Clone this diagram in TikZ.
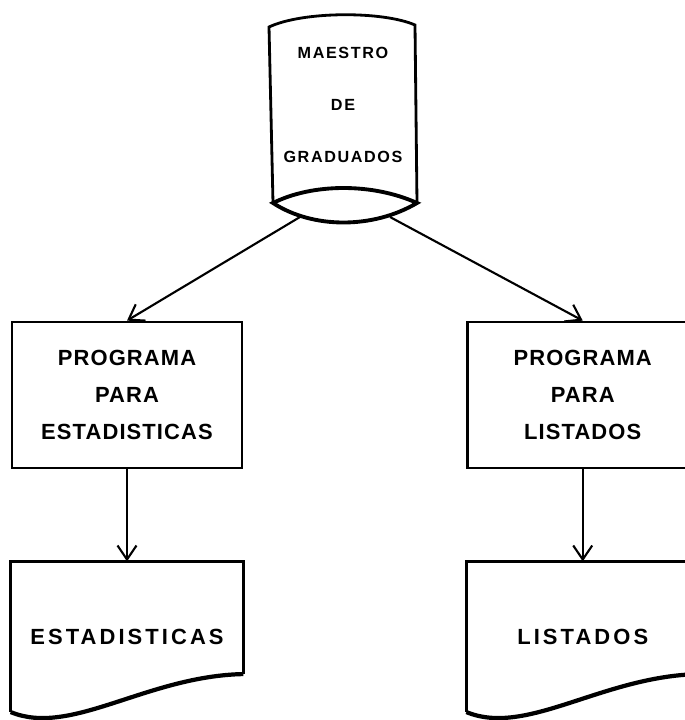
\documentclass[tikz,border=0pt]{standalone}
\usepackage{fontspec}
\newfontfamily\rotulo[LetterSpace=5]{Liberation Sans}
\newfontfamily\rotuloancho[LetterSpace=14]{Liberation Sans}
\newfontfamily\rotulocinta[LetterSpace=10]{Liberation Sans}
\usetikzlibrary{arrows.meta,positioning}

\tikzset{
  linea/.style={line width=1.6pt},
  proceso/.style={draw,linea,minimum width=4.6cm,minimum height=2.92cm,align=center,
    font=\rotulo\bfseries\fontsize{12.5}{21}\selectfont},
  documento/.style={minimum width=4.64cm,minimum height=3cm,align=center,
    font=\rotuloancho\bfseries\fontsize{12.5}{15}\selectfont},
  cinta/.style={align=center,inner sep=0pt,
    font=\rotulocinta\bfseries\fontsize{9.2}{29.5}\selectfont},
  flecha/.style={->,line width=1.2pt}
}

\begin{document}
\begin{tikzpicture}[x=0.02cm,y=-0.02cm,>={Straight Barb[length=2.8mm,width=3.8mm]}]
\useasboundingbox (0,0) rectangle (685,720);
\clip (0,0) rectangle (685,720);

\node[cinta] (maestro) at (343,105) {MAESTRO\\DE\\GRADUADOS};
\node[proceso] (progest) at (127,395) {PROGRAMA\\PARA\\ESTADISTICAS};
\node[proceso] (proglist) [right=4.46cm of progest] {PROGRAMA\\PARA\\LISTADOS};
\node[documento] (listest) [below=1.84cm of progest] {ESTADISTICAS};
\node[documento] (listlist) [below=1.84cm of proglist] {LISTADOS};

% cinta del maestro
\begin{scope}[shift={(maestro.center)}]
  \draw[linea] (-70,98) -- (-74,-78) .. controls (-40,-94) and (40,-94) .. (72,-80) -- (74,98);
  \draw[line width=2.2pt] (-70,98) .. controls (-30,78) and (30,78) .. (74,98)
    .. controls (30,124) and (-30,124) .. (-70,98) -- cycle;
  \coordinate (cintaizq) at (-43,112);
  \coordinate (cintader) at (47,112);
\end{scope}

% hojas de salida
\foreach \hoja in {listest,listlist}{
  \draw[linea] ([yshift=0.76cm]\hoja.south east) -- (\hoja.north east)
    -- (\hoja.north west) -- (\hoja.south west);
  \draw[line width=2.4pt] (\hoja.south west) .. controls +(60,25) and +(-97,2)
    .. ([yshift=0.76cm]\hoja.south east);
}

\draw[flecha] (cintaizq) -- (progest.north);
\draw[flecha] (cintader) -- (proglist.north);
\draw[flecha] (progest) -- (listest);
\draw[flecha] (proglist) -- (listlist);
\end{tikzpicture}
\end{document}
